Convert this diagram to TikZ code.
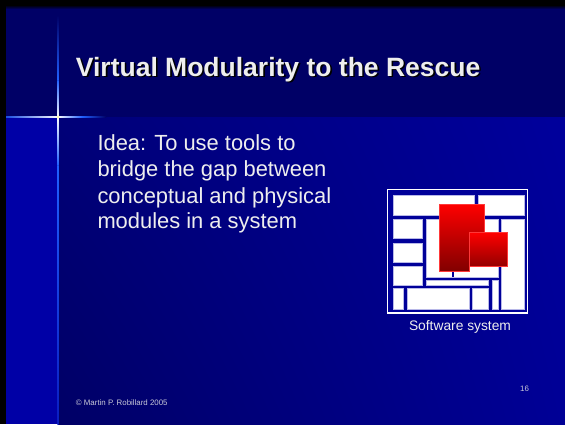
\documentclass[tikz,border=0pt]{standalone}
\usepackage{fontspec}
\usetikzlibrary{shadings}
\setmainfont{Liberation Sans}
\definecolor{band}{HTML}{000066}
\definecolor{strip}{HTML}{0000A6}
\definecolor{txt}{HTML}{EEEEEE}
\definecolor{foot}{HTML}{C8C8D8}
\definecolor{gridblue}{HTML}{000099}
\definecolor{celledge}{HTML}{B8B8E8}
\definecolor{redtop}{HTML}{FF0000}
\definecolor{redbot}{HTML}{800000}
\definecolor{redline}{HTML}{FF3838}
\definecolor{starblue}{HTML}{2060FF}
\definecolor{bodyUL}{HTML}{000078}
\definecolor{bodyUR}{HTML}{00009C}
\definecolor{bodyLL}{HTML}{000066}
\definecolor{bodyLR}{HTML}{000096}
\newcommand{\shadowtext}[1]{\rlap{\hspace{1.6pt}\raisebox{-1.6pt}{\textcolor{black}{#1}}}#1}
\begin{document}
\begin{tikzpicture}[x=1pt,y=-1pt,
  cell/.style={fill=white, draw=celledge, line width=0.4pt},
  slidetext/.style={text=txt, inner sep=0pt, anchor=base west},
  bodyfont/.style={font=\fontsize{21.9}{26}\selectfont},
  titlefont/.style={font=\fontsize{26.5}{31}\selectfont\bfseries},
  smallfont/.style={font=\fontsize{7.9}{9.5}\selectfont},
  redblock/.style={draw=redline, line width=0.8pt},
]
\useasboundingbox (0,0) rectangle (565,424);
% background
\fill[black] (0,0) rectangle (565,424);
\fill[band] (6,5) rectangle (565,117);
\shade[top color=black, bottom color=band] (6,5) rectangle (565,9);
\fill[strip] (6,117) rectangle (58,424);
\shade[upper left=bodyUL, upper right=bodyUR, lower left=bodyLL, lower right=bodyLR] (58,117) rectangle (565,424);
% star
\shade[top color=band, bottom color=starblue] (57.3,15) rectangle (58.7,80);
\shade[top color=starblue, bottom color=white] (57.3,80) rectangle (58.7,117);
\shade[top color=white, bottom color=starblue] (57.3,117) rectangle (58.7,165);
\shade[top color=starblue, bottom color=strip!70!starblue] (57.3,165) rectangle (58.7,424);
\shade[left color=starblue!80!band, right color=white] (6,116.3) rectangle (58,117.7);
\shade[left color=white, right color=starblue] (58,116.3) rectangle (82,117.7);
\shade[left color=starblue, right color=band] (82,116.3) rectangle (106,117.7);
\fill[yellow!30!white] (58,117) circle (1.6);
% title
\node[slidetext, titlefont] (title) at (75.7,76) {\shadowtext{Virtual Modularity to the Rescue}};
% body text
\node[slidetext, bodyfont] (idea1) at (97.3,150) {Idea: To use tools to};
\node[slidetext, bodyfont] (idea2) at (97.3,176.5) {bridge the gap between};
\node[slidetext, bodyfont] (idea3) at (97.3,203) {conceptual and physical};
\node[slidetext, bodyfont] (idea4) at (97.3,228.5) {modules in a system};
% software system figure
\fill[gridblue] (387,189) rectangle (528,313.7);
\draw[white, line width=1.3pt] (387.7,189.7) rectangle (527.3,313);
\draw[cell] (393.3,195.3) rectangle (474.3,214.7);
\draw[cell] (477.7,195.3) rectangle (524.3,214.7);
\draw[cell] (393.3,219) rectangle (422,238.3);
\draw[cell] (393.3,242.7) rectangle (422,261.7);
\draw[cell] (393.3,266) rectangle (422,285);
\draw[cell] (426,219) rectangle (497.7,276.7);
\draw[cell] (426,280) rectangle (488.3,285);
\draw[cell] (491.7,280) rectangle (497.7,309.3);
\draw[cell] (501,219) rectangle (524.3,309.3);
\draw[cell] (393.3,288.3) rectangle (403.3,309.3);
\draw[cell] (407.3,288.3) rectangle (469,309.3);
\draw[cell] (472.3,288.3) rectangle (488.3,309.3);
\fill[gridblue] (451.5,271) rectangle (454,276.7);
\shade[top color=redtop, bottom color=redbot] (439.3,204) -- (484,204) -- (484,232) -- (469.3,232) -- (469.3,271.7) -- (439.3,271.7) -- cycle;
\draw[redblock] (439.3,204) -- (484,204) -- (484,232) -- (469.3,232) -- (469.3,271.7) -- (439.3,271.7) -- cycle;
\shade[top color=redtop, bottom color=redbot!85!red] (469.3,232) rectangle (507.3,266.7);
\draw[redblock] (469.3,232) rectangle (507.3,266.7);
\node[slidetext, font=\fontsize{13.8}{16}\selectfont, anchor=base] (caption) at (460,330) {Software system};
% footer
\node[slidetext, smallfont, text=foot] (copyright) at (75.7,405) {© Martin P. Robillard 2005};
\node[slidetext, smallfont, text=foot] (pagenum) at (520,391) {16};
\end{tikzpicture}
\end{document}
